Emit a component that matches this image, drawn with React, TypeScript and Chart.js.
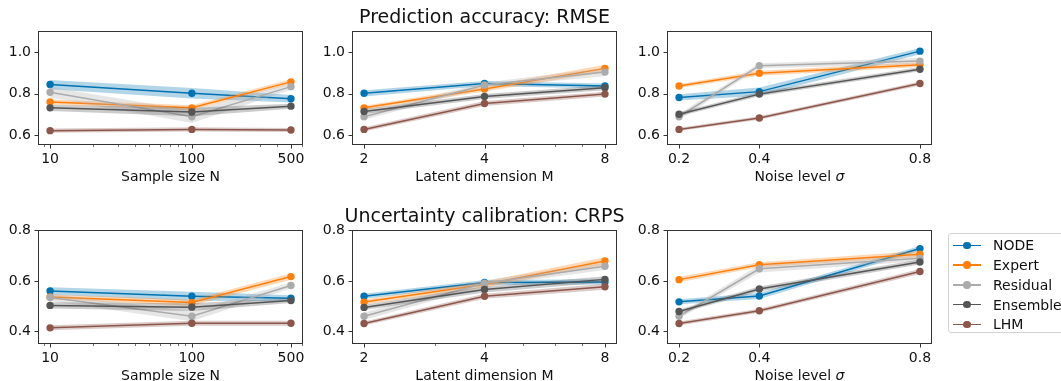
import React, { useEffect, useRef } from 'react';
import { Chart, registerables } from 'chart.js';

Chart.register(...registerables);

// ---------- data ----------
const methods = ['NODE', 'Expert', 'Residual', 'Ensemble', 'LHM'];
const methodColors = ['#0173b2', '#ff7f0e', '#ababab', '#555555', '#8c564b'];
const methodBandColors = [
  'rgba(1,115,178,0.3)',
  'rgba(255,127,14,0.3)',
  'rgba(171,171,171,0.3)',
  'rgba(85,85,85,0.3)',
  'rgba(140,86,75,0.3)',
];

const sampleSizes = [10, 100, 500];
const sampleSizeLabels = ['10', '100', '500'];
const sampleSizeMinor = [9, 20, 30, 40, 50, 60, 70, 80, 90, 200, 300, 400, 600];
const latentDims = [2, 4, 8];
const latentDimLabels = ['2', '4', '8'];
const latentDimMinor = [3, 5, 6, 7];
const noiseLevels = [0.2, 0.4, 0.8];
const noiseLevelLabels = ['0.2', '0.4', '0.8'];

const rmseTicks = [0.6, 0.8, 1.0];
const rmseTickLabels = ['0.6', '0.8', '1.0'];
const crpsTicks = [0.4, 0.6, 0.8];
const crpsTickLabels = ['0.4', '0.6', '0.8'];

// RMSE (rows = methods in order NODE, Expert, Residual, Ensemble, LHM)
const rmseBySampleSize = [
  [0.844, 0.802, 0.776],
  [0.760, 0.732, 0.857],
  [0.807, 0.689, 0.834],
  [0.732, 0.712, 0.740],
  [0.622, 0.628, 0.625],
];
const rmseBySampleSizeBand = [
  [0.022, 0.025, 0.018],
  [0.012, 0.012, 0.012],
  [0.025, 0.03, 0.015],
  [0.015, 0.02, 0.012],
  [0.01, 0.01, 0.01],
];
const rmseByLatentDim = [
  [0.802, 0.849, 0.837],
  [0.732, 0.823, 0.922],
  [0.689, 0.842, 0.904],
  [0.714, 0.787, 0.829],
  [0.628, 0.753, 0.798],
];
const rmseByLatentDimBand = [
  [0.015, 0.012, 0.012],
  [0.01, 0.012, 0.018],
  [0.015, 0.012, 0.02],
  [0.012, 0.012, 0.012],
  [0.01, 0.012, 0.012],
];
const rmseByNoise = [
  [0.782, 0.810, 1.005],
  [0.837, 0.899, 0.940],
  [0.689, 0.935, 0.957],
  [0.701, 0.798, 0.918],
  [0.628, 0.683, 0.849],
];
const rmseByNoiseBand = [
  [0.015, 0.02, 0.015],
  [0.01, 0.012, 0.012],
  [0.015, 0.012, 0.015],
  [0.01, 0.01, 0.01],
  [0.008, 0.008, 0.01],
];

// CRPS
const crpsBySampleSize = [
  [0.560, 0.539, 0.531],
  [0.536, 0.514, 0.617],
  [0.534, 0.460, 0.582],
  [0.503, 0.496, 0.522],
  [0.414, 0.432, 0.432],
];
const crpsBySampleSizeBand = [
  [0.015, 0.018, 0.012],
  [0.01, 0.012, 0.012],
  [0.015, 0.02, 0.012],
  [0.012, 0.015, 0.01],
  [0.01, 0.01, 0.01],
];
const crpsByLatentDim = [
  [0.539, 0.594, 0.596],
  [0.516, 0.586, 0.679],
  [0.460, 0.591, 0.658],
  [0.495, 0.566, 0.606],
  [0.431, 0.539, 0.577],
];
const crpsByLatentDimBand = [
  [0.01, 0.01, 0.01],
  [0.01, 0.012, 0.015],
  [0.015, 0.012, 0.015],
  [0.01, 0.012, 0.012],
  [0.008, 0.01, 0.012],
];
const crpsByNoise = [
  [0.517, 0.540, 0.728],
  [0.605, 0.664, 0.706],
  [0.460, 0.648, 0.690],
  [0.479, 0.568, 0.675],
  [0.431, 0.482, 0.637],
];
const crpsByNoiseBand = [
  [0.01, 0.012, 0.01],
  [0.01, 0.01, 0.012],
  [0.01, 0.015, 0.012],
  [0.008, 0.01, 0.01],
  [0.008, 0.008, 0.01],
];

// ---------- layout ----------
const FONT = "'DejaVu Sans', sans-serif";
const FS = 14;
const TEXT = '#111111';
const COLS = [38, 352, 667];
const ROWS = [28, 227];
const PW = 265;
const PH = 117;
const PAD_L = 40;
const PAD_T = 12;
const PAD_R = 12;
const PAD_B = 40;

type TitlePart = { text: string; italic: boolean };

interface PanelSpec {
  left: number;
  top: number;
  xType: 'logarithmic' | 'linear';
  xValues: number[];
  xMin: number;
  xMax: number;
  xMajor: number[];
  xLabels: string[];
  xMinor: number[];
  xTitle: TitlePart[];
  means: number[][];
  bands: number[][];
  yMin: number;
  yMax: number;
  yTicks: number[];
  yLabels: string[];
}

const panels: PanelSpec[] = [
  {
    left: COLS[0], top: ROWS[0], xType: 'logarithmic', xValues: sampleSizes,
    xMin: 8.22, xMax: 608, xMajor: sampleSizes, xLabels: sampleSizeLabels, xMinor: sampleSizeMinor,
    xTitle: [{ text: 'Sample size N', italic: false }],
    means: rmseBySampleSize, bands: rmseBySampleSizeBand,
    yMin: 0.553, yMax: 1.1, yTicks: rmseTicks, yLabels: rmseTickLabels,
  },
  {
    left: COLS[1], top: ROWS[0], xType: 'logarithmic', xValues: latentDims,
    xMin: 1.866, xMax: 8.574, xMajor: latentDims, xLabels: latentDimLabels, xMinor: latentDimMinor,
    xTitle: [{ text: 'Latent dimension M', italic: false }],
    means: rmseByLatentDim, bands: rmseByLatentDimBand,
    yMin: 0.553, yMax: 1.1, yTicks: rmseTicks, yLabels: rmseTickLabels,
  },
  {
    left: COLS[2], top: ROWS[0], xType: 'linear', xValues: noiseLevels,
    xMin: 0.17, xMax: 0.83, xMajor: noiseLevels, xLabels: noiseLevelLabels, xMinor: [],
    xTitle: [{ text: 'Noise level ', italic: false }, { text: 'σ', italic: true }],
    means: rmseByNoise, bands: rmseByNoiseBand,
    yMin: 0.553, yMax: 1.1, yTicks: rmseTicks, yLabels: rmseTickLabels,
  },
  {
    left: COLS[0], top: ROWS[1], xType: 'logarithmic', xValues: sampleSizes,
    xMin: 8.22, xMax: 608, xMajor: sampleSizes, xLabels: sampleSizeLabels, xMinor: sampleSizeMinor,
    xTitle: [{ text: 'Sample size N', italic: false }],
    means: crpsBySampleSize, bands: crpsBySampleSizeBand,
    yMin: 0.35, yMax: 0.8, yTicks: crpsTicks, yLabels: crpsTickLabels,
  },
  {
    left: COLS[1], top: ROWS[1], xType: 'logarithmic', xValues: latentDims,
    xMin: 1.866, xMax: 8.574, xMajor: latentDims, xLabels: latentDimLabels, xMinor: latentDimMinor,
    xTitle: [{ text: 'Latent dimension M', italic: false }],
    means: crpsByLatentDim, bands: crpsByLatentDimBand,
    yMin: 0.35, yMax: 0.8, yTicks: crpsTicks, yLabels: crpsTickLabels,
  },
  {
    left: COLS[2], top: ROWS[1], xType: 'linear', xValues: noiseLevels,
    xMin: 0.17, xMax: 0.83, xMajor: noiseLevels, xLabels: noiseLevelLabels, xMinor: [],
    xTitle: [{ text: 'Noise level ', italic: false }, { text: 'σ', italic: true }],
    means: crpsByNoise, bands: crpsByNoiseBand,
    yMin: 0.35, yMax: 0.8, yTicks: crpsTicks, yLabels: crpsTickLabels,
  },
];

function labelFor(v: number, values: number[], labels: string[]): string {
  for (let i = 0; i < values.length; i++) {
    if (Math.abs(values[i] - v) < 1e-9) return labels[i];
  }
  return '';
}

function Panel({ spec }: { spec: PanelSpec }) {
  const ref = useRef<HTMLCanvasElement | null>(null);
  useEffect(() => {
    if (!ref.current) return;
    const datasets: any[] = [];
    methods.forEach((name, i) => {
      const mean = spec.means[i];
      const band = spec.bands[i];
      const lower = spec.xValues.map((x, j) => ({ x, y: mean[j] - band[j] }));
      const upper = spec.xValues.map((x, j) => ({ x, y: mean[j] + band[j] }));
      const line = spec.xValues.map((x, j) => ({ x, y: mean[j] }));
      const bandOrder = 100 - 2 * i;
      const lineOrder = 99 - 2 * i;
      datasets.push({
        label: name + ' lower', data: lower, borderWidth: 0, pointRadius: 0,
        borderColor: 'rgba(0,0,0,0)', fill: false, order: bandOrder, tension: 0,
      });
      datasets.push({
        label: name + ' upper', data: upper, borderWidth: 0, pointRadius: 0,
        borderColor: 'rgba(0,0,0,0)', backgroundColor: methodBandColors[i], fill: '-1',
        order: bandOrder, tension: 0,
      });
      datasets.push({
        label: name, data: line, borderColor: methodColors[i], borderWidth: 1.5,
        pointRadius: 3.7, pointBackgroundColor: methodColors[i], pointBorderWidth: 0,
        pointHoverRadius: 3.7, fill: false, order: lineOrder, tension: 0,
      });
    });

    const framePlugin = {
      id: 'frameTicks',
      afterDraw(chart: any) {
        const ctx = chart.ctx;
        const a = chart.chartArea;
        const xs = chart.scales.x;
        const ys = chart.scales.y;
        ctx.save();
        ctx.strokeStyle = '#333333';
        ctx.lineWidth = 1;
        const l = Math.round(a.left) + 0.5;
        const t = Math.round(a.top) + 0.5;
        const r = Math.round(a.right) - 0.5;
        const b = Math.round(a.bottom) - 0.5;
        ctx.strokeRect(l, t, r - l, b - t);
        ctx.beginPath();
        spec.xMajor.forEach((v) => {
          const px = Math.round(xs.getPixelForValue(v)) + 0.5;
          ctx.moveTo(px, b);
          ctx.lineTo(px, b + 4);
        });
        ctx.stroke();
        ctx.lineWidth = 0.7;
        ctx.beginPath();
        spec.xMinor.forEach((v) => {
          if (v < spec.xMin || v > spec.xMax) return;
          const px = Math.round(xs.getPixelForValue(v)) + 0.5;
          ctx.moveTo(px, b);
          ctx.lineTo(px, b + 2.5);
        });
        ctx.stroke();
        ctx.lineWidth = 1;
        ctx.beginPath();
        spec.yTicks.forEach((v) => {
          const py = Math.round(ys.getPixelForValue(v)) + 0.5;
          ctx.moveTo(l - 4, py);
          ctx.lineTo(l, py);
        });
        ctx.stroke();
        // x axis title (with optional italic part)
        ctx.fillStyle = TEXT;
        ctx.textBaseline = 'alphabetic';
        ctx.textAlign = 'left';
        const fonts = spec.xTitle.map((p) => (p.italic ? 'italic ' : '') + FS + 'px ' + FONT);
        let total = 0;
        const widths = spec.xTitle.map((p, k) => {
          ctx.font = fonts[k];
          const w = ctx.measureText(p.text).width;
          total += w;
          return w;
        });
        let cx = (a.left + a.right) / 2 - total / 2;
        const by = a.bottom + 35.5;
        spec.xTitle.forEach((p, k) => {
          ctx.font = fonts[k];
          ctx.fillText(p.text, cx, by);
          cx += widths[k];
        });
        ctx.restore();
      },
    };

    const chart = new Chart(ref.current, {
      type: 'line',
      data: { datasets },
      plugins: [framePlugin],
      options: {
        animation: false,
        responsive: false,
        devicePixelRatio: 1,
        events: [],
        layout: { padding: { top: PAD_T, right: PAD_R, left: 0, bottom: 0 } },
        plugins: { legend: { display: false }, tooltip: { enabled: false } },
        scales: {
          x: {
            type: spec.xType,
            min: spec.xMin,
            max: spec.xMax,
            grid: { display: false, drawTicks: false },
            border: { display: false },
            afterBuildTicks: (s: any) => {
              s.ticks = spec.xMajor.map((v) => ({ value: v }));
            },
            afterFit: (s: any) => {
              s.height = PAD_B;
            },
            ticks: {
              autoSkip: false,
              maxRotation: 0,
              minRotation: 0,
              padding: 6,
              color: TEXT,
              font: { family: FONT, size: FS },
              callback: (v: any) => labelFor(Number(v), spec.xMajor, spec.xLabels),
            },
          },
          y: {
            type: 'linear',
            min: spec.yMin,
            max: spec.yMax,
            grid: { display: false, drawTicks: false },
            border: { display: false },
            afterBuildTicks: (s: any) => {
              s.ticks = spec.yTicks.map((v) => ({ value: v }));
            },
            afterFit: (s: any) => {
              s.width = PAD_L;
            },
            ticks: {
              autoSkip: false,
              padding: 7,
              color: TEXT,
              font: { family: FONT, size: FS },
              callback: (v: any) => labelFor(Number(v), spec.yTicks, spec.yLabels),
            },
          },
        },
      } as any,
    });
    return () => chart.destroy();
  }, [spec]);

  const w = PW + PAD_L + PAD_R;
  const h = PH + PAD_T + PAD_B;
  return (
    <canvas
      ref={ref}
      width={w}
      height={h}
      style={{
        position: 'absolute',
        left: spec.left - PAD_L,
        top: spec.top - PAD_T,
        width: w,
        height: h,
      }}
    />
  );
}

const legendRows = [245.3, 265.1, 284.9, 304.7, 324.4];

export default function App() {
  return (
    <div
      style={{
        position: 'fixed',
        left: 0,
        top: 0,
        width: 1061,
        height: 381,
        overflow: 'hidden',
        background: '#ffffff',
        fontFamily: FONT,
      }}
    >
      {panels.map((p, i) => (
        <Panel key={i} spec={p} />
      ))}
      <div
        style={{
          position: 'absolute', left: 314, width: 341, top: 4.5, height: 22,
          lineHeight: '22px', fontSize: 19, textAlign: 'center', color: TEXT, whiteSpace: 'nowrap',
        }}
      >
        Prediction accuracy: RMSE
      </div>
      <div
        style={{
          position: 'absolute', left: 284, width: 401, top: 203.5, height: 22,
          lineHeight: '22px', fontSize: 19, textAlign: 'center', color: TEXT, whiteSpace: 'nowrap',
        }}
      >
        Uncertainty calibration: CRPS
      </div>
      <div
        style={{
          position: 'absolute', left: 948, top: 233, width: 140, height: 98,
          border: '1px solid #d4d4d4', borderRadius: 3, background: '#ffffff',
        }}
      >
        {methods.map((m, i) => {
          const cy = legendRows[i] - 234;
          return (
            <React.Fragment key={m}>
              <div
                style={{
                  position: 'absolute', left: 4, top: cy - 0.75, width: 28, height: 1.5,
                  background: methodColors[i],
                }}
              />
              <div
                style={{
                  position: 'absolute', left: 18 - 3.7, top: cy - 3.7, width: 7.4, height: 7.4,
                  borderRadius: '50%', background: methodColors[i],
                }}
              />
              <div
                style={{
                  position: 'absolute', left: 44, top: cy - 10, height: 20, lineHeight: '20px',
                  fontSize: FS, color: TEXT, whiteSpace: 'nowrap',
                }}
              >
                {m}
              </div>
            </React.Fragment>
          );
        })}
      </div>
    </div>
  );
}
